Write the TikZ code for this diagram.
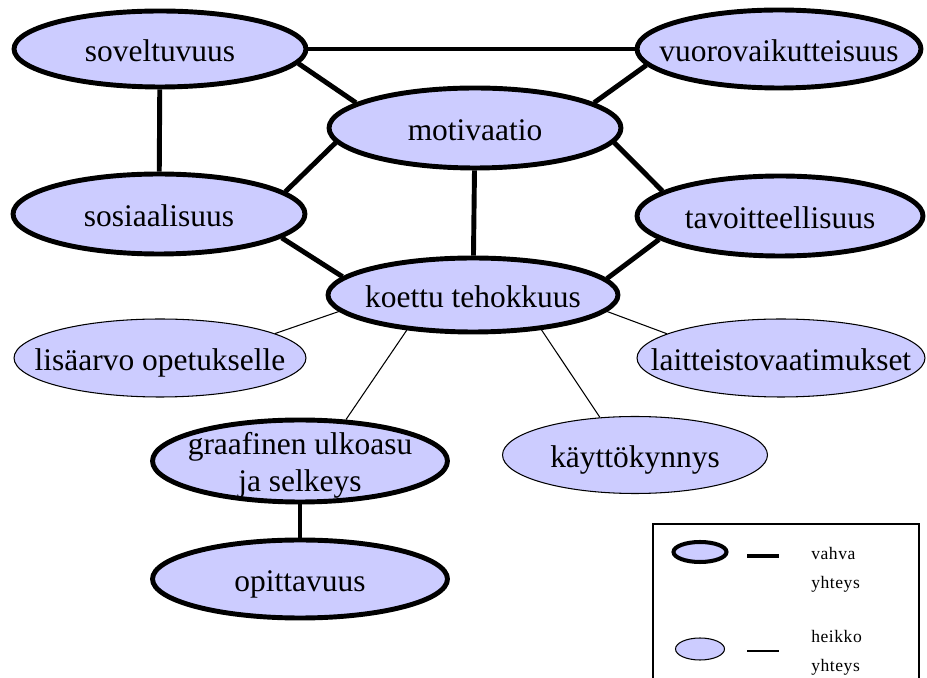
\documentclass[tikz,border=0pt]{standalone}
\usepackage{fontspec}
\setmainfont{Liberation Serif}
\usepackage{tikz}
\usetikzlibrary{shapes.geometric}
\definecolor{bubblefill}{RGB}{204, 204, 255}
\newcommand{\nodetext}[1]{\makebox[0pt]{#1}}

\begin{document}
\begin{tikzpicture}[x=0.02cm, y=-0.02cm,
    strong/.style={ellipse, draw, line width=2.8pt, fill=bubblefill, inner sep=0pt, text height=14pt, text depth=0pt, font=\fontsize{17.9}{21}\selectfont},
    weak/.style={strong, line width=0.6pt},
    dims/.style 2 args={minimum width=#1cm, minimum height=#2cm},
    strongline/.style={line width=2.8pt},
    weakline/.style={line width=0.6pt},
    legtext/.style={inner sep=0pt, anchor=west, align=left, font=\fontsize{10}{16.4}\selectfont\addfontfeatures{LetterSpace=3}}
]
\useasboundingbox (0,0) rectangle (927,678);

% Strong nodes
\node[strong, dims={5.84}{1.52}] (sov) at (160,49) {\nodetext{soveltuvuus}};
\node[strong, dims={5.68}{1.56}] (vuo) at (779,49) {\nodetext{vuorovaikutteisuus}};
\node[strong, dims={5.84}{1.6}] (mot) at (475,128) {\nodetext{motivaatio}};
\node[strong, dims={5.84}{1.6}] (sos) at (159,214) {\nodetext{sosiaalisuus}};
\node[strong, dims={5.72}{1.6}] (tav) at (780,216) {\nodetext{tavoitteellisuus}};
\node[strong, dims={5.8}{1.48}] (koe) at (473,295) {\nodetext{koettu tehokkuus}};
\node[strong, dims={5.9}{1.64}] (gra) at (300,461) {\nodetext{\begin{tabular}{@{}c@{}}graafinen ulkoasu\\ja selkeys\end{tabular}}};
\node[strong, dims={5.9}{1.56}] (opi) at (300,579) {\nodetext{opittavuus}};

% Weak nodes
\node[weak, dims={5.84}{1.56}] (lis) at (160,358) {\nodetext{lisäarvo opetukselle}};
\node[weak, dims={5.76}{1.56}] (lai) at (781,358) {\nodetext{laitteistovaatimukset}};
\node[weak, dims={5.3}{1.54}] (kay) at (635,455) {\nodetext{käyttökynnys}};

% Strong connections
\draw[strongline] (sov) -- (vuo);
\draw[strongline] (sov.354) -- (mot.168);
\draw[strongline] (sov) -- (sos);
\draw[strongline] (mot.12) -- (vuo.187);
\draw[strongline] (sos.10) -- (mot.186);
\draw[strongline] (mot.354) -- (tav.168);
\draw[strongline] (mot) -- (koe);
\draw[strongline] (sos.349) -- (koe.172);
\draw[strongline] (tav.191) -- (koe.7);
\draw[strongline] (gra) -- (opi);

% Weak connections
\draw[weakline] (koe.187) -- (lis.12);
\draw[weakline] (koe.353) -- (lai.168);
\draw[weakline] (koe.208) -- (gra.42);
\draw[weakline] (koe.333) -- (kay.133);

% Legend
\draw[weakline] (653,678) |- (919,524) -- (919,678);
\node[strong, line width=2.3pt, dims={1.06}{0.4}, text height=0pt] (legstrong) at (700,552) {};
\node[weak, dims={0.98}{0.44}, text height=0pt] (legweak) at (700,649) {};
\coordinate (legstrongA) at (747,556);
\coordinate (legstrongB) at (779,556);
\coordinate (legweakA) at (747,651);
\coordinate (legweakB) at (779,651);
\draw[strongline] (legstrongA) -- (legstrongB);
\draw[weakline] (legweakA) -- (legweakB);
\node[legtext] (legstrongtext) at (811,570) {vahva\\yhteys};
\node[legtext] (legweaktext) at (811,653) {heikko\\yhteys};

\end{tikzpicture}
\end{document}
